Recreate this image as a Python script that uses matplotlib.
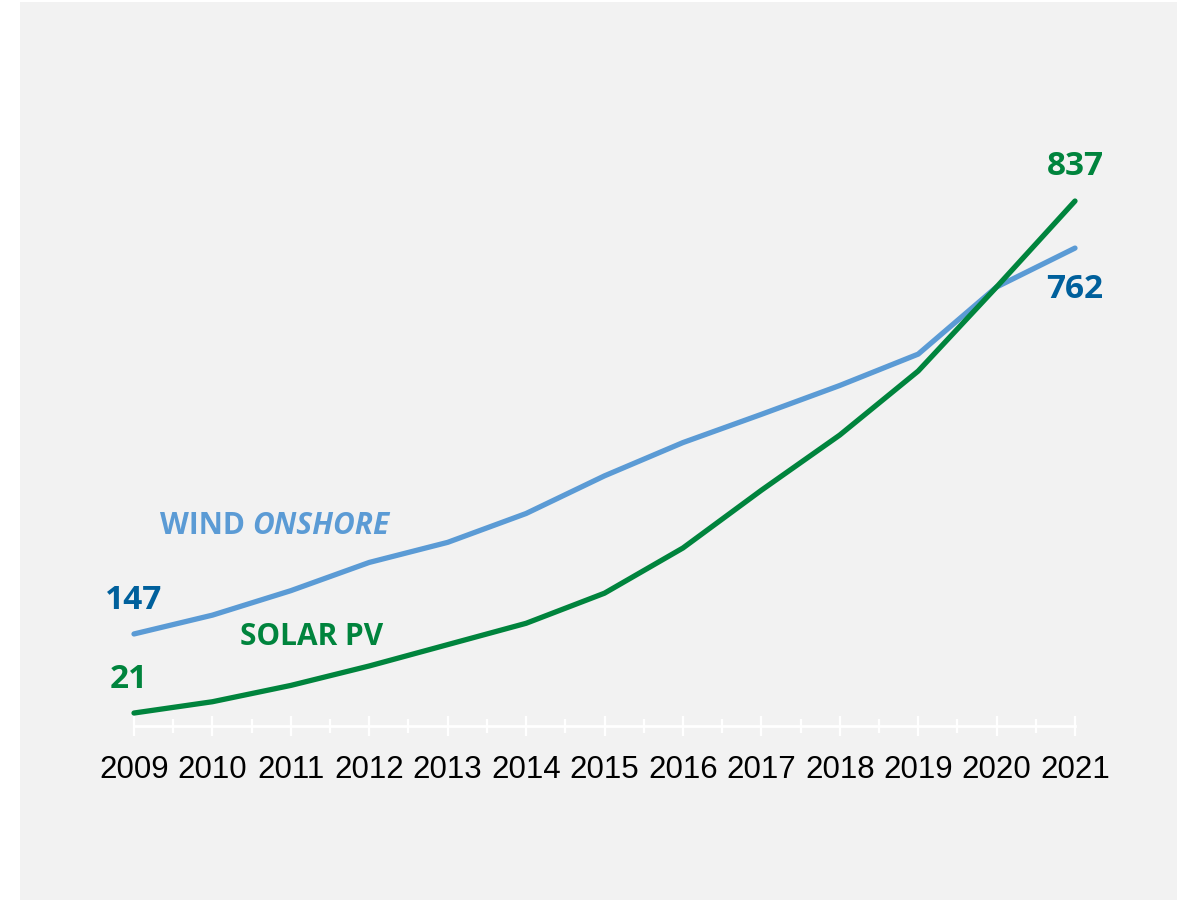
import matplotlib
matplotlib.use("Agg")
import matplotlib.pyplot as plt
from matplotlib.patches import Rectangle
from matplotlib.ticker import MultipleLocator

years = [2009, 2010, 2011, 2012, 2013, 2014, 2015, 2016, 2017, 2018, 2019, 2020, 2021]
wind_onshore = [147, 177, 216, 261, 293, 339, 399, 452, 497, 543, 593, 700, 762]
solar_pv = [21, 39, 65, 96, 130, 164, 212, 284, 376, 464, 566, 700, 837]

WIND_LINE = "#5b9bd5"
WIND_TEXT = "#00609c"
SOLAR = "#00843d"
BG = "#f2f2f2"

fig = plt.figure(figsize=(11.89, 9.0), dpi=100)
fig.patch.set_facecolor("white")
fig.add_artist(Rectangle((20 / 1189, 0), 1157 / 1189, 898 / 900,
                         transform=fig.transFigure, facecolor=BG,
                         edgecolor="none", zorder=0))

ax = fig.add_axes([134 / 1189, 1 - 726.2 / 900, 941 / 1189, 564.7 / 900])
ax.set_facecolor("none")
ax.set_xlim(2009, 2021)
ax.set_ylim(0, 900)

ax.plot(years, wind_onshore, color=WIND_LINE, lw=3.8, solid_capstyle="round",
        solid_joinstyle="round", clip_on=False, zorder=3)
ax.plot(years, solar_pv, color=SOLAR, lw=3.8, solid_capstyle="round",
        solid_joinstyle="round", clip_on=False, zorder=4)

for s in ["top", "left", "right"]:
    ax.spines[s].set_visible(False)
ax.spines["bottom"].set_color("white")
ax.spines["bottom"].set_linewidth(2)
ax.set_yticks([])
ax.set_xticks(years)
ax.xaxis.set_minor_locator(MultipleLocator(0.5))
ax.tick_params(axis="x", which="major", direction="inout", length=14, width=1.6,
               color="white", pad=14, labelsize=22.5, labelcolor="black")
ax.tick_params(axis="x", which="minor", direction="inout", length=10, width=1.6,
               color="white")
for lab in ax.get_xticklabels():
    lab.set_fontfamily("Liberation Sans")

bold = dict(fontfamily="Open Sans", fontweight="bold", fontsize=24,
            ha="center", va="center")

# end-point value labels
ax.annotate(f"{wind_onshore[0]}", (years[0], wind_onshore[0]), xytext=(0, 24),
            textcoords="offset points", color=WIND_TEXT, annotation_clip=False, **bold)
ax.annotate(f"{solar_pv[0]}", (years[0], solar_pv[0]), xytext=(-4, 24),
            textcoords="offset points", color=SOLAR, annotation_clip=False, **bold)
ax.annotate(f"{solar_pv[-1]}", (years[-1], solar_pv[-1]), xytext=(0, 25),
            textcoords="offset points", color=SOLAR, annotation_clip=False, **bold)
ax.annotate(f"{wind_onshore[-1]}", (years[-1], wind_onshore[-1]), xytext=(0, -30),
            textcoords="offset points", color=WIND_TEXT, annotation_clip=False, **bold)

# series names
ax.text(2009.33, 319, "WIND ", color=WIND_LINE, fontfamily="Open Sans",
        fontweight="bold", fontsize=21.5, ha="left", va="center")
ax.annotate("ONSHORE", xy=(1, 0.5), xycoords=ax.texts[-1], color=WIND_LINE,
            fontfamily="Open Sans", fontweight="bold", fontstyle="italic",
            fontsize=21.5, ha="left", va="center")
ax.text(2010.35, 142, "SOLAR PV", color=SOLAR, fontfamily="Open Sans",
        fontweight="bold", fontsize=21.5, ha="left", va="center")

fig.savefig("out.png", dpi=100, facecolor=fig.get_facecolor())
